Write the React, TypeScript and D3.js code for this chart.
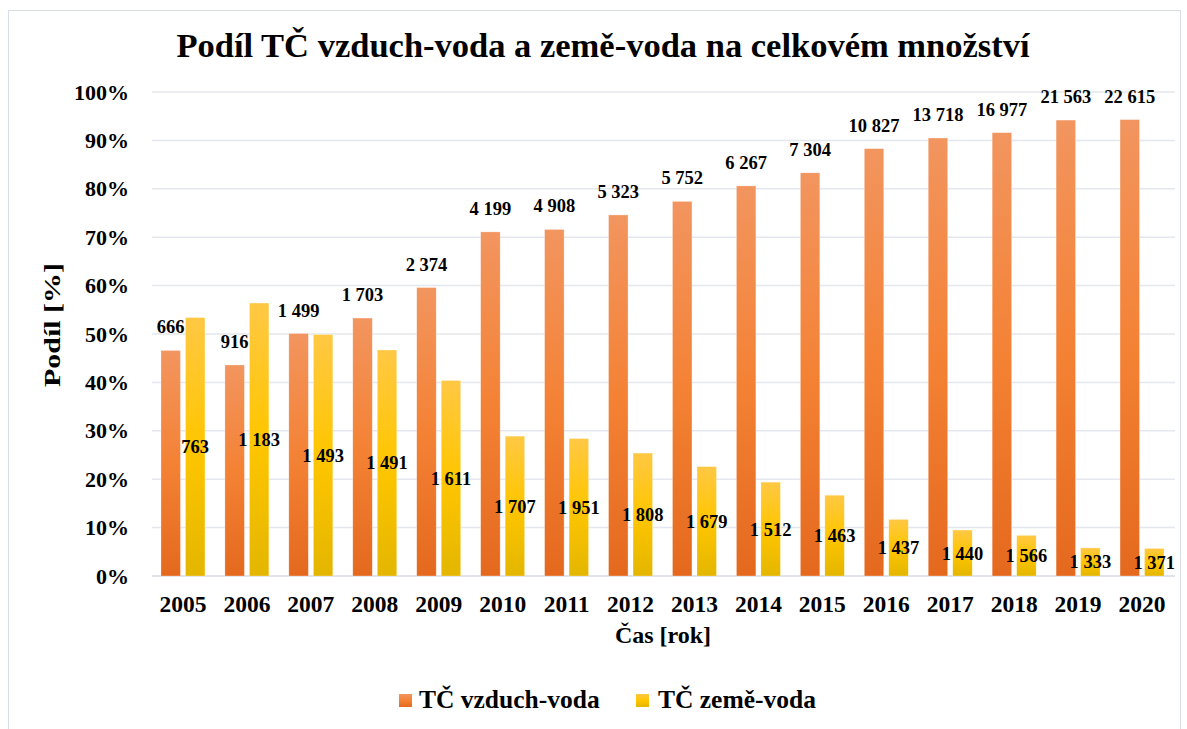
import React from "react";
import * as d3 from "d3";

const years = ["2005","2006","2007","2008","2009","2010","2011","2012","2013","2014","2015","2016","2017","2018","2019","2020"];
const airWaterCount = [666, 916, 1499, 1703, 2374, 4199, 4908, 5323, 5752, 6267, 7304, 10827, 13718, 16977, 21563, 22615];
const groundWaterCount = [763, 1183, 1493, 1491, 1611, 1707, 1951, 1808, 1679, 1512, 1463, 1437, 1440, 1566, 1333, 1371];
const airWaterShare = [46.6, 43.6, 50.1, 53.3, 59.6, 71.1, 71.6, 74.6, 77.4, 80.6, 83.3, 88.3, 90.5, 91.6, 94.2, 94.3];
const groundWaterShare = [53.4, 56.4, 49.9, 46.7, 40.4, 28.9, 28.4, 25.4, 22.6, 19.4, 16.7, 11.7, 9.5, 8.4, 5.8, 5.7];
const yTicks = [0, 10, 20, 30, 40, 50, 60, 70, 80, 90, 100];
const seriesNames = ["TČ vzduch-voda", "TČ země-voda"];

const W = 1187;
const H = 729;
const FONT = "'Liberation Serif', 'Times New Roman', serif";

const fmt = (n: number) => {
  const s = String(n);
  return s.replace(/\B(?=(\d{3})+(?!\d))/g, " ");
};

export default function App() {
  const x = d3.scaleBand<string>().domain(years).range([152, 1175]).padding(0);
  const y = d3.scaleLinear().domain([0, 100]).range([576, 92]);
  const bw = 19.5;
  const gap = 5;

  return (
    <svg width={W} height={H} style={{ position: "absolute", left: 0, top: 0, background: "#fff" }} fontFamily={FONT}>
      <defs>
        <linearGradient id="gOrange" x1="0" y1="0" x2="0" y2="1">
          <stop offset="0" stopColor="#F2955F" />
          <stop offset="0.5" stopColor="#F48235" />
          <stop offset="1" stopColor="#E4691E" />
        </linearGradient>
        <linearGradient id="gYellow" x1="0" y1="0" x2="0" y2="1">
          <stop offset="0" stopColor="#FFC844" />
          <stop offset="0.5" stopColor="#FFC600" />
          <stop offset="1" stopColor="#E4B600" />
        </linearGradient>
      </defs>
      <rect x={8.5} y={10.5} width={1172} height={740} fill="#fff" stroke="#D9DEE6" strokeWidth={1} />
      <text x={603} y={57} textAnchor="middle" fontSize={34.5} fontWeight="bold" fill="#000">
        Podíl TČ vzduch-voda a země-voda na celkovém množství
      </text>
      {yTicks.map((t) => (
        <g key={t}>
          <line x1={152} x2={1175} y1={y(t)} y2={y(t)} stroke={t === 0 ? "#D6DAE2" : "#E4E7ED"} strokeWidth={1.5} />
          <text x={129} y={y(t) + 7.5} textAnchor="end" fontSize={22} fontWeight="bold">{t}%</text>
        </g>
      ))}
      {years.map((yr, i) => {
        const c = (x(yr) as number) + x.bandwidth() / 2 - 1;
        const ox = c - gap / 2 - bw;
        const yx = c + gap / 2;
        const oy = y(airWaterShare[i]);
        const yy = y(groundWaterShare[i]);
        return (
          <g key={yr}>
            <rect x={ox} y={oy} width={bw} height={y(0) - oy} fill="url(#gOrange)" stroke="#fff" strokeOpacity={0.5} strokeWidth={0.6} />
            <rect x={yx} y={yy} width={bw} height={y(0) - yy} fill="url(#gYellow)" stroke="#fff" strokeOpacity={0.5} strokeWidth={0.6} />
            <text x={ox + bw / 2} y={oy - 17} textAnchor="middle" fontSize={18.5} fontWeight="bold">{fmt(airWaterCount[i])}</text>
            <text x={yx + bw / 2} y={(yy + y(0)) / 2 + 6.5} textAnchor="middle" fontSize={18.5} fontWeight="bold">{fmt(groundWaterCount[i])}</text>
            <text x={c} y={612} textAnchor="middle" fontSize={23.5} fontWeight="bold">{yr}</text>
          </g>
        );
      })}
      <text x={663} y={643} textAnchor="middle" fontSize={24} fontWeight="bold">Čas [rok]</text>
      <text transform={`translate(${60},${325}) rotate(-90)`} textAnchor="middle" fontSize={24} fontWeight="bold" textLength={124} lengthAdjust="spacingAndGlyphs">Podíl [%]</text>
      <rect x={399} y={694} width={13} height={13} fill="url(#gOrange)" />
      <text x={419} y={708} fontSize={25.5} fontWeight="bold">{seriesNames[0]}</text>
      <rect x={636} y={694} width={13} height={13} fill="url(#gYellow)" />
      <text x={658} y={708} fontSize={25.5} fontWeight="bold">{seriesNames[1]}</text>
    </svg>
  );
}
